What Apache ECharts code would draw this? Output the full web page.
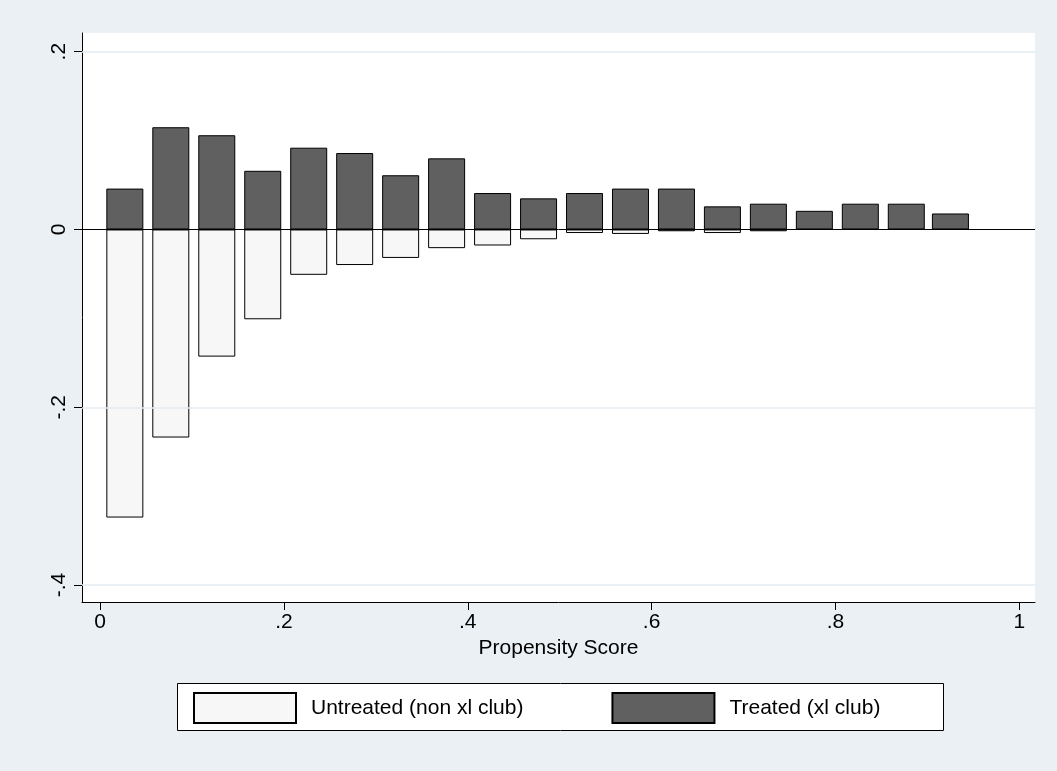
<!DOCTYPE html>
<html><head><meta charset="utf-8">
<script src="https://cdn.jsdelivr.net/npm/echarts@6/dist/echarts.min.js"></script>
<style>html,body{margin:0;padding:0;background:#eaf0f3}#c{width:1057px;height:771px}</style>
</head><body><div id="c"></div>
<script>
// bin centres of the propensity score histogram
var binCenters = [0.027, 0.077, 0.127, 0.177, 0.227, 0.277, 0.327, 0.377, 0.427, 0.477,
  0.527, 0.577, 0.627, 0.677, 0.727, 0.777, 0.827, 0.877, 0.925]
var treated = [0.046, 0.115, 0.106, 0.066, 0.092, 0.086, 0.061, 0.080, 0.041, 0.035,
  0.041, 0.046, 0.046, 0.026, 0.029, 0.021, 0.029, 0.029, 0.018]
var untreated = [-0.324, -0.234, -0.143, -0.101, -0.051, -0.040, -0.032, -0.021, -0.018, -0.011,
  -0.004, -0.005, -0.002, -0.004, -0.002, 0, 0, 0, 0]
var xTicks = [0, 0.2, 0.4, 0.6, 0.8, 1]
var yTicks = [-0.4, -0.2, 0, 0.2]
var seriesNames = ['Untreated (non xl club)', 'Treated (xl club)']

function fmt(v) {
  var s = String(Math.round(v * 10) / 10)
  return s.replace('0.', '.')
}
function pairs(vals) {
  return vals.map(function(v, i) { return [binCenters[i], v] })
}
var font = 'Liberation Sans, Arial, sans-serif'

var option = {
  backgroundColor: '#eaf0f3',
  animation: false,
  grid: { left: 82, right: 22, top: 33, bottom: 169, show: true, backgroundColor: '#fff', borderWidth: 0 },
  legend: {
    top: 687, left: 188, itemWidth: 102, itemHeight: 30, itemGap: 88, icon: 'rect',
    textStyle: { fontFamily: font, fontSize: 21, color: '#000', padding: [0, 0, 0, 10] },
    data: seriesNames
  },
  graphic: [{
    type: 'rect', left: 177, top: 683, z: -1,
    shape: { width: 766, height: 47 },
    style: { fill: '#fff', stroke: '#000', lineWidth: 1 }
  }],
  xAxis: {
    type: 'value', min: -0.0196, max: 1.017,
    name: 'Propensity Score', nameLocation: 'middle', nameGap: 35,
    nameTextStyle: { fontFamily: font, fontSize: 21, color: '#000' },
    axisLine: { show: true, onZero: false, lineStyle: { color: '#000' } },
    axisTick: { show: true, length: 8, customValues: xTicks, lineStyle: { color: '#000' } },
    axisLabel: { customValues: xTicks, formatter: fmt, fontFamily: font, fontSize: 21, color: '#000', margin: 10 },
    splitLine: { show: false }
  },
  yAxis: {
    type: 'value', min: -0.419, max: 0.221,
    axisLine: { show: true, onZero: false, lineStyle: { color: '#000' } },
    axisTick: { show: true, length: 8, customValues: yTicks, lineStyle: { color: '#000' } },
    axisLabel: { customValues: yTicks, formatter: fmt, rotate: 90, fontFamily: font, fontSize: 21, color: '#000', margin: 12 },
    splitLine: { show: false }
  },
  series: [{
    name: seriesNames[0], type: 'bar', barWidth: 37, barGap: '-100%',
    itemStyle: { color: '#f7f7f7', borderColor: '#000', borderWidth: 1 },
    data: pairs(untreated),
    markLine: {
      silent: true, symbol: 'none', label: { show: false },
      lineStyle: { color: '#e3ebf0', type: 'solid', width: 1.5 },
      data: [{ yAxis: 0.2 }, { yAxis: -0.2 }, { yAxis: -0.4 }]
    }
  }, {
    name: seriesNames[1], type: 'bar', barWidth: 37, barGap: '-100%',
    itemStyle: { color: '#606060', borderColor: '#000', borderWidth: 1 },
    data: pairs(treated),
    markLine: {
      silent: true, symbol: 'none', label: { show: false }, z: 10,
      lineStyle: { color: '#000', type: 'solid', width: 1 },
      data: [{ yAxis: 0 }]
    }
  }]
}
echarts.init(document.getElementById('c')).setOption(option)
</script></body></html>
